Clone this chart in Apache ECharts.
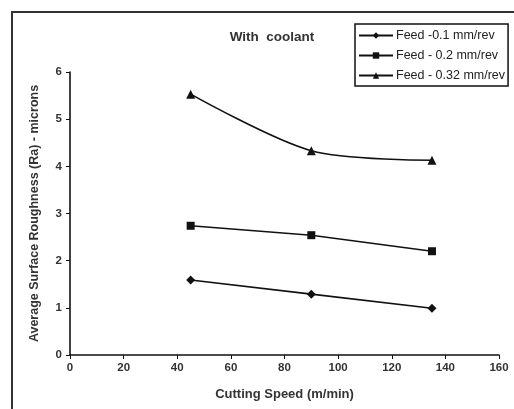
<!DOCTYPE html>
<html><head><meta charset="utf-8">
<script src="https://cdn.jsdelivr.net/npm/echarts@6/dist/echarts.min.js"></script>
<style>html,body{margin:0;padding:0;background:#fff}#c{width:514px;height:409px}</style>
</head><body><div id="c"></div>
<script>
const speeds = [45, 90, 135];
const feed01 = [1.59, 1.29, 0.99];
const feed02 = [2.74, 2.54, 2.20];
const feed032 = [5.53, 4.33, 4.13];
const seriesNames = ['Feed -0.1 mm/rev', 'Feed - 0.2 mm/rev', 'Feed - 0.32 mm/rev'];
const xTicks = [0, 20, 40, 60, 80, 100, 120, 140, 160];
const yTicks = [0, 1, 2, 3, 4, 5, 6];

const font = 'Liberation Sans, Arial, sans-serif';
const chart = echarts.init(document.getElementById('c'), null, {renderer: 'canvas'});
function pts(v){ return speeds.map((s,i)=>[s,v[i]]); }
const mk = (name, data, symbol, size, smooth) => ({
  name, type: 'line', data: pts(data), symbol, symbolSize: size, smooth,
  lineStyle: {color: '#111', width: 1.6},
  itemStyle: {color: '#111'},
  animation: false
});
chart.setOption({
  animation: false,
  title: {text: 'With  coolant', left: 267, top: 25, textAlign: 'center',
    textStyle: {fontFamily: font, fontSize: 13.5, fontWeight: 'bold', color: '#333'}},
  graphic: [{type: 'rect', shape: {x: 12, y: 12, width: 540, height: 440},
    style: {fill: 'none', stroke: '#333', lineWidth: 2}, silent: true}],
  legend: {
    orient: 'vertical', left: 355, top: 24,
    itemWidth: 34, itemHeight: 8, itemGap: 7,
    padding: [5, 3, 4, 3], borderColor: '#111', borderWidth: 1.5,
    textStyle: {fontFamily: font, fontSize: 12.5, color: '#222', padding: [0, 0, 0, -2]},
    data: seriesNames
  },
  grid: {left: 70, right: 15, top: 72, bottom: 54, containLabel: false},
  xAxis: {
    type: 'value', min: xTicks[0], max: xTicks[xTicks.length-1], interval: 20,
    name: 'Cutting Speed (m/min)', nameLocation: 'middle', nameGap: 33,
    nameTextStyle: {fontFamily: font, fontSize: 13, fontWeight: 'bold', color: '#333'},
    axisLine: {lineStyle: {color: '#111', width: 1.6}},
    axisTick: {show: true, length: 4, lineStyle: {color: '#111'}},
    axisLabel: {fontFamily: font, fontSize: 11.5, fontWeight: 'bold', color: '#333', margin: 7},
    splitLine: {show: false}
  },
  yAxis: {
    type: 'value', min: yTicks[0], max: yTicks[yTicks.length-1], interval: 1,
    name: 'Average Surface Roughness (Ra) - microns', nameLocation: 'middle', nameGap: 29,
    nameTextStyle: {fontFamily: font, fontSize: 12.5, fontWeight: 'bold', color: '#333'},
    axisLine: {show: true, lineStyle: {color: '#111', width: 1.6}},
    axisTick: {show: true, length: 4, lineStyle: {color: '#111'}},
    axisLabel: {fontFamily: font, fontSize: 11.5, fontWeight: 'bold', color: '#333', margin: 8},
    splitLine: {show: false}
  },
  series: [
    mk(seriesNames[0], feed01, 'diamond', 9, false),
    mk(seriesNames[1], feed02, 'rect', 8, false),
    mk(seriesNames[2], feed032, 'triangle', 9, 0.3)
  ]
});
</script></body></html>
